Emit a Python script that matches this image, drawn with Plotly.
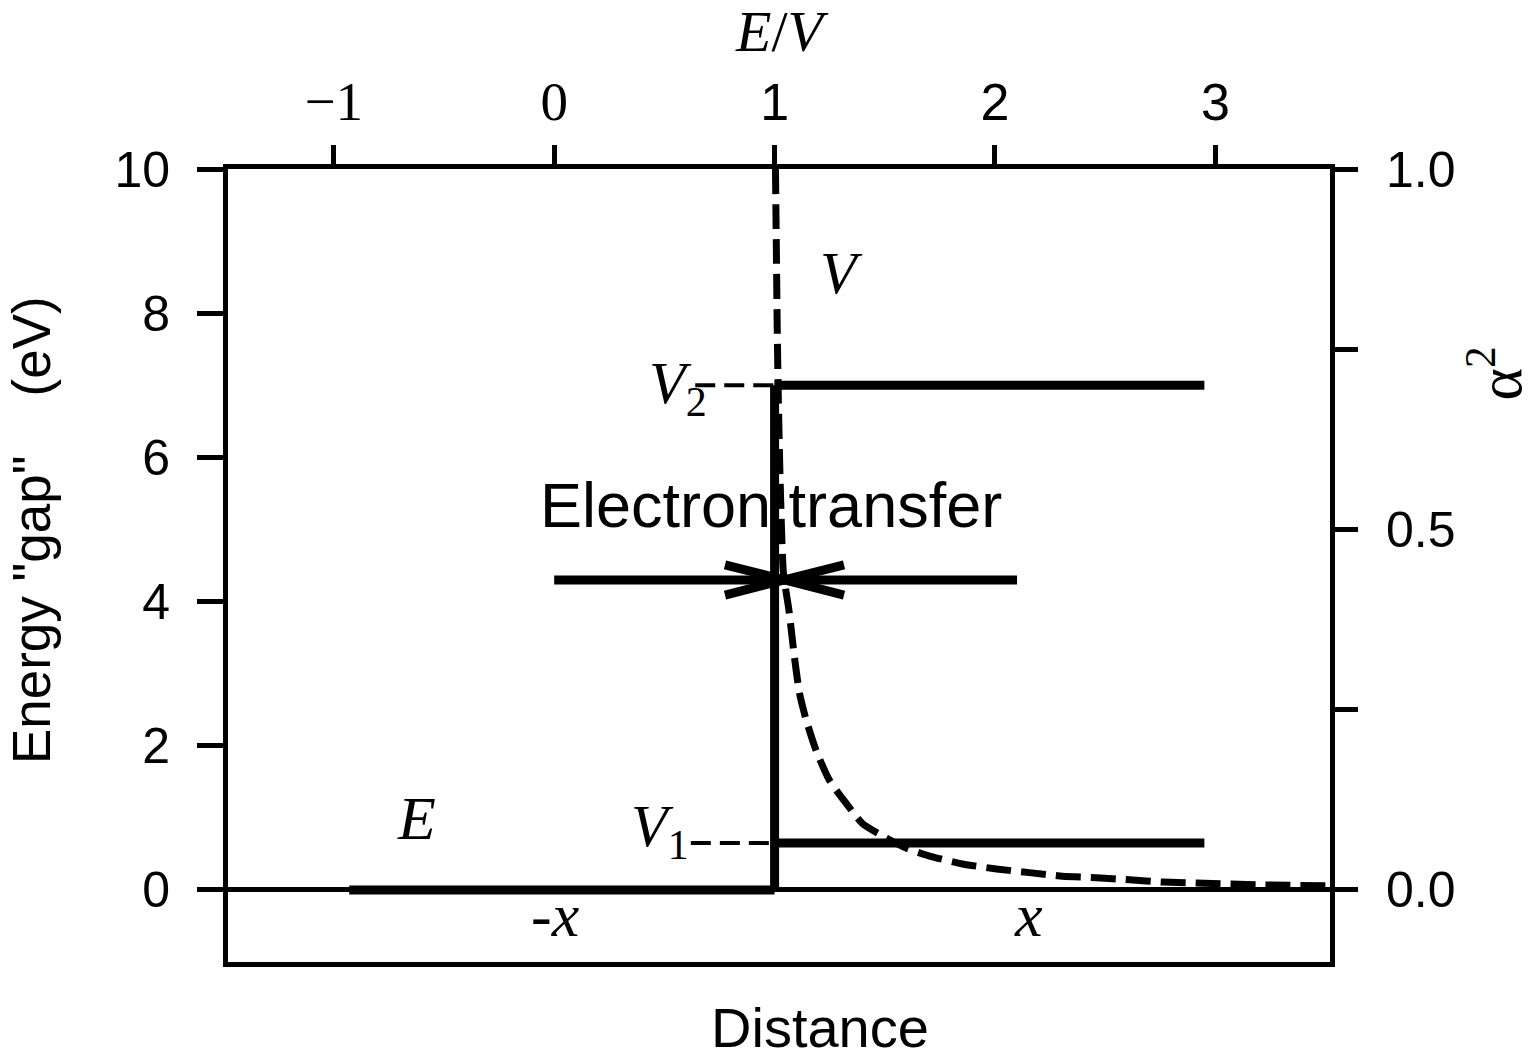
import plotly.graph_objects as go

# axis ticks
EV_TICKS = [-1, 0, 1, 2, 3]
EV_TICK_TEXT = ['<span style="font-family:Liberation Serif;font-size:55px">\u22121</span>',
                '<span style="font-family:Liberation Serif;font-size:55px">0</span>',
                '1', '2', '3']
ENERGY_TICKS = [0, 2, 4, 6, 8, 10]
ALPHA_TICKS = [0, 0.25, 0.5, 0.75, 1.0]
ALPHA_TICK_TEXT = ['0.0', '', '0.5', '', '1.0']

# energy levels (x in E/V units, y in eV)
E_LEVEL_X = [-0.93, 1.0]
E_LEVEL_Y = [0, 0]
BARRIER_X = [1.0, 1.0]
BARRIER_Y = [0, 7.0]
V2_X = [1.0, 2.95]
V2_Y = [7.0, 7.0]
V1_X = [1.0, 2.95]
V1_Y = [0.65, 0.65]
V2_GUIDE_X = [0.64, 1.0]
V1_GUIDE_X = [0.62, 1.0]

# alpha^2 versus E/V (dashed curve, right axis)
ALPHA_EV = [1.004, 1.008, 1.012, 1.017, 1.025, 1.040, 1.065, 1.090, 1.113, 1.144,
            1.189, 1.249, 1.325, 1.399, 1.507, 1.597, 1.703, 1.853, 2.007, 2.156,
            2.306, 2.460, 2.610, 2.760, 2.914, 3.213, 3.52]
ALPHA_SQ = [1.0, 0.889, 0.777, 0.680, 0.569, 0.440, 0.388, 0.323, 0.273, 0.235,
            0.193, 0.152, 0.120, 0.092, 0.072, 0.058, 0.047, 0.036, 0.029, 0.024,
            0.019, 0.017, 0.014, 0.011, 0.0097, 0.007, 0.0056]

# electron transfer arrows
ARROW_Y = 4.3
ARROW_TAILS = [0.0, 2.1]
ARROW_TIP = 1.045

SANS = "Liberation Sans"
SERIF = "Liberation Serif"
HEAD_LEN = 0.27   # chevron length (E/V units)
HEAD_HALF = 0.21  # chevron half height (eV)

fig = go.Figure()

solid = dict(color="black", width=9)
for xs, ys in [(E_LEVEL_X, E_LEVEL_Y), (BARRIER_X, BARRIER_Y), (V2_X, V2_Y), (V1_X, V1_Y)]:
    fig.add_trace(go.Scatter(x=xs, y=ys, mode="lines", line=solid, showlegend=False))

guide = dict(color="black", width=4, dash="20px,9px")
fig.add_trace(go.Scatter(x=V2_GUIDE_X, y=V2_Y, mode="lines", line=guide, showlegend=False))
fig.add_trace(go.Scatter(x=V1_GUIDE_X, y=V1_Y, mode="lines", line=guide, showlegend=False))

# arrows: shaft plus chevron head
for tail in ARROW_TAILS:
    d = 1 if tail < ARROW_TIP else -1
    back = ARROW_TIP - d * HEAD_LEN
    fig.add_trace(go.Scatter(
        x=[tail, ARROW_TIP, None, back, ARROW_TIP, back],
        y=[ARROW_Y, ARROW_Y, None, ARROW_Y + HEAD_HALF, ARROW_Y, ARROW_Y - HEAD_HALF],
        mode="lines", line=solid, showlegend=False))

fig.add_trace(go.Scatter(x=ALPHA_EV, y=ALPHA_SQ, mode="lines", xaxis="x2", yaxis="y2",
                         line=dict(color="black", width=7, dash="25px,10px",
                                   shape="spline", smoothing=0.6),
                         showlegend=False))

# the page body adds an 8px offset, so the figure is 8px smaller
fig.update_layout(
    width=1527, height=1052,
    margin=dict(l=220, r=205, t=161, b=98, autoexpand=False),
    plot_bgcolor="white", paper_bgcolor="white",
    font=dict(family=SANS, color="black", size=50),
    xaxis=dict(range=[-1.48, 3.52], showline=True, mirror=True, linecolor="black",
               linewidth=5, showgrid=False, zeroline=False, showticklabels=False,
               ticks="", automargin=False),
    xaxis2=dict(range=[-1.48, 3.52], overlaying="x", side="top", showline=False,
                showgrid=False, zeroline=False, tickvals=EV_TICKS, ticktext=EV_TICK_TEXT,
                ticks="outside", ticklen=23, tickwidth=5, tickcolor="black",
                tickfont=dict(size=52), ticklabelstandoff=4, automargin=False),
    yaxis=dict(range=[-1.0, 10.0], showline=True, linecolor="black", linewidth=5,
               showgrid=False, zeroline=True, zerolinecolor="black", zerolinewidth=5,
               tickvals=ENERGY_TICKS, ticks="outside", ticklen=26, tickwidth=5,
               tickcolor="black", ticklabelstandoff=17, automargin=False),
    yaxis2=dict(range=[-0.1, 1.0], overlaying="y", side="right", showline=True,
                linecolor="black", linewidth=5, showgrid=False, zeroline=False,
                tickvals=ALPHA_TICKS, ticktext=ALPHA_TICK_TEXT, ticks="outside",
                ticklen=23, tickwidth=5, tickcolor="black", ticklabelstandoff=18,
                automargin=False),
)

ann = [
    dict(text="Electron transfer", x=0.982, y=5.34, font=dict(family=SANS, size=63)),
    dict(text="<i>V</i>", x=1.304, y=8.56, font=dict(family=SERIF, size=60)),
    dict(text="<i>V</i><sub>2</sub>", x=0.56, y=6.97, font=dict(family=SERIF, size=60)),
    dict(text="<i>V</i><sub>1</sub>", x=0.48, y=0.82, font=dict(family=SERIF, size=60)),
    dict(text="<i>E</i>", x=-0.627, y=1.0, font=dict(family=SERIF, size=62)),
    dict(text="<i>-x</i>", x=0.006, y=-0.35, font=dict(family=SERIF, size=62)),
    dict(text="<i>x</i>", x=2.15, y=-0.35, font=dict(family=SERIF, size=62)),
]
for a in ann:
    fig.add_annotation(xref="x", yref="y", showarrow=False, **a)

titles = [
    dict(text="<i>E</i>/<i>V</i>", x=0.503, y=1.1728, font=dict(family=SERIF, size=58)),
    dict(text="Distance", x=0.537, y=-0.083, font=dict(family=SANS, size=56)),
    dict(text='Energy "gap"\u00a0\u00a0\u00a0\u00a0(eV)', x=-0.1776, y=0.545, textangle=-90,
         font=dict(family=SANS, size=53)),
    dict(text="\u03b1<sup>2</sup>", x=1.15, y=0.7425, textangle=-90,
         font=dict(family=SERIF, size=62)),
]
for t in titles:
    fig.add_annotation(xref="paper", yref="paper", xanchor="center", yanchor="middle",
                       showarrow=False, **t)

fig.write_html("out.html")
